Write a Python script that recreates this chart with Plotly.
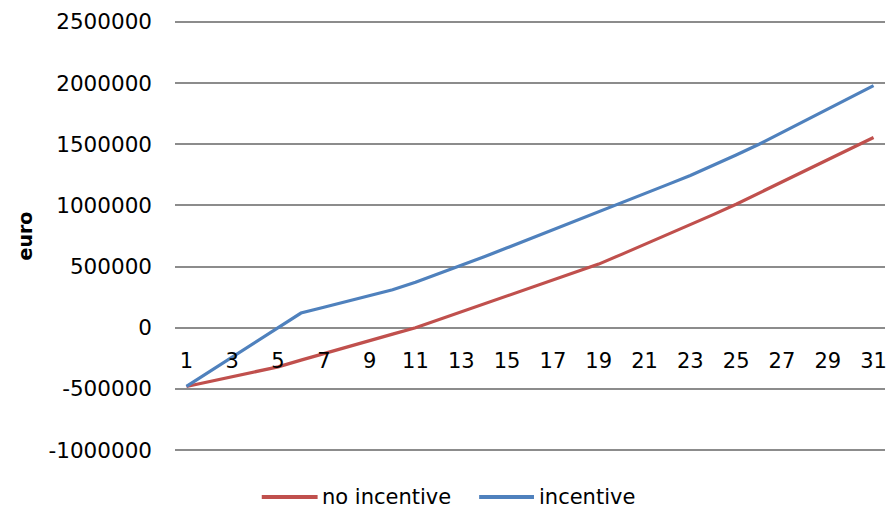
import plotly.graph_objects as go

# Years 1..31 and cumulative cash position (euro) for both scenarios
years = list(range(1, 32))
no_incentive = [
    -480000, -440000, -400000, -360000, -320000, -265000, -210000, -157000,
    -105000, -52000, 0, 65000, 130000, 195000, 260000, 325000, 390000,
    455000, 520000, 600000, 680000, 760000, 840000, 925000, 1010000,
    1100000, 1190000, 1280000, 1370000, 1460000, 1555000,
]
incentive = [
    -480000, -360000, -240000, -120000, 0, 120000, 167000, 214000, 261000,
    310000, 372000, 440000, 508000, 580000, 653000, 726000, 800000, 873000,
    945000, 1020000, 1095000, 1170000, 1245000, 1325000, 1412000, 1500000,
    1595000, 1690000, 1785000, 1885000, 1980000,
]
x_tick_vals = list(range(1, 32, 2))
y_tick_vals = [-1000000, -500000, 0, 500000, 1000000, 1500000, 2000000, 2500000]

RED = "#C0504D"
BLUE = "#4F81BD"
GRID = "#8C8C8C"
FONT = "DejaVu Sans"

W, H = 892, 512
L, R, T, B = 175, 5, 20, 60
plot_w = W - L - R
plot_h = H - T - B
y_min, y_max = -1000000, 2500000
pad = 16000  # keeps the outermost gridlines inside the plot area

fig = go.Figure()
fig.add_trace(go.Scatter(x=years, y=no_incentive, mode="lines", name="no incentive",
                         line=dict(color=RED, width=3.2), showlegend=False))
fig.add_trace(go.Scatter(x=years, y=incentive, mode="lines", name="incentive",
                         line=dict(color=BLUE, width=3.2), showlegend=False))

# category axis crosses the value axis at zero
zero_pos = (0 - (y_min - pad)) / ((y_max + pad) - (y_min - pad))

fig.update_layout(
    width=W, height=H,
    margin=dict(l=L, r=R, t=T, b=B),
    paper_bgcolor="white", plot_bgcolor="white",
    font=dict(family=FONT, size=21, color="#000000"),
    xaxis=dict(
        range=[0.5, 31.5], tickmode="array", tickvals=x_tick_vals,
        ticktext=[str(v) for v in x_tick_vals],
        showgrid=False, zeroline=False, showline=False, ticks="",
        anchor="free", position=zero_pos, ticklabelstandoff=18,
    ),
    yaxis=dict(
        range=[y_min - pad, y_max + pad], tickmode="array", tickvals=y_tick_vals,
        ticktext=[str(v) for v in y_tick_vals],
        showgrid=True, gridcolor=GRID, gridwidth=1.5,
        zeroline=False, showline=False, ticks="", ticklabelstandoff=22,
        tickfont=dict(size=21.5),
    ),
)

def px_x(px):
    return (px - L) / plot_w

def px_y(py):
    return (H - B - py) / plot_h

# value axis title
fig.add_annotation(xref="paper", yref="paper", x=px_x(25), y=px_y(236),
                   text="<b>euro</b>", textangle=-90, showarrow=False,
                   xanchor="center", yanchor="middle",
                   font=dict(family=FONT, size=19, color="#000000"))

# legend drawn beneath the plot
legend_y = 497
legend_items = [("no incentive", RED, 262, 318, 320), ("incentive", BLUE, 480, 535, 538)]
for label, color, x0, x1, tx in legend_items:
    fig.add_shape(type="line", xref="paper", yref="paper",
                  x0=px_x(x0), x1=px_x(x1), y0=px_y(legend_y), y1=px_y(legend_y),
                  line=dict(color=color, width=4))
    fig.add_annotation(xref="paper", yref="paper", x=px_x(tx), y=px_y(legend_y),
                       text=label, showarrow=False, xanchor="left", yanchor="middle",
                       font=dict(family=FONT, size=21, color="#000000"))

fig.write_html("out.html")
